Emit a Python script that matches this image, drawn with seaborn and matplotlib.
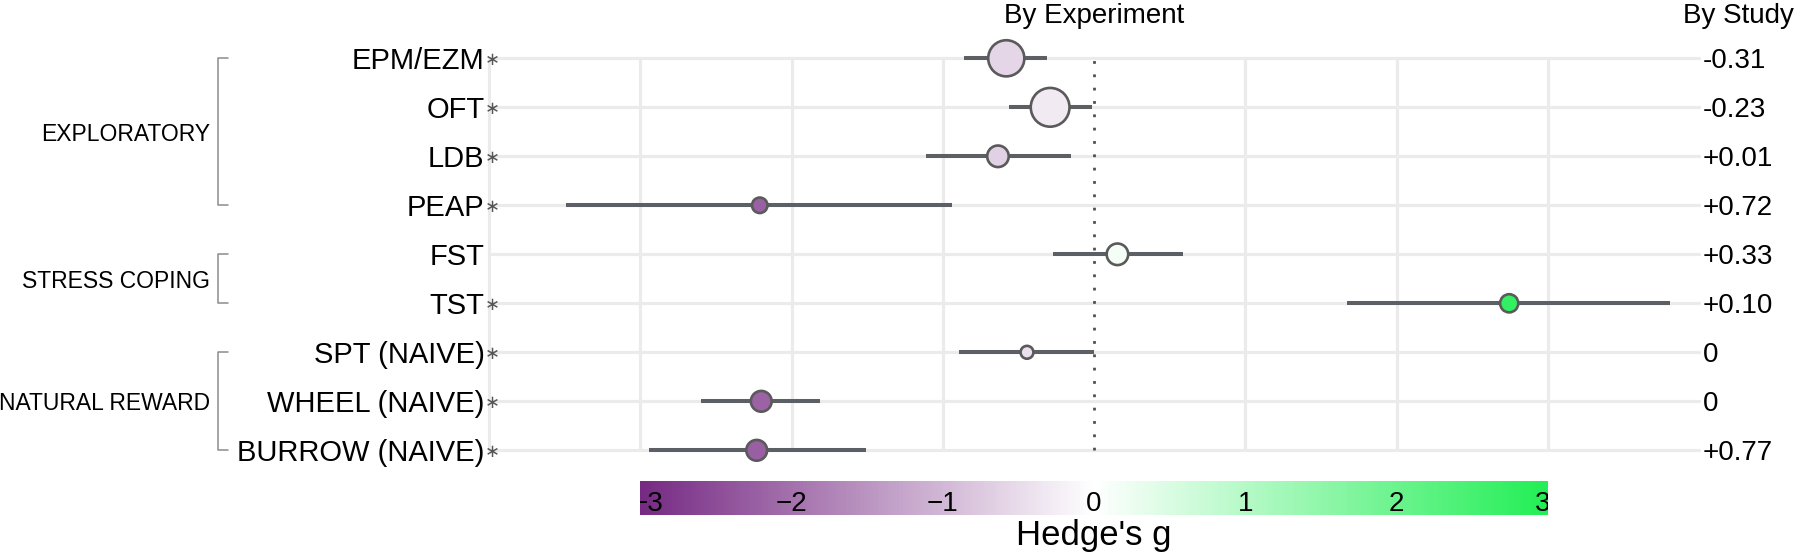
import numpy as np
import pandas as pd
import matplotlib
matplotlib.use("Agg")
import matplotlib.pyplot as plt
import seaborn as sns
from matplotlib.colors import LinearSegmentedColormap, Normalize
from matplotlib.cm import ScalarMappable
from matplotlib.transforms import blended_transform_factory, offset_copy

# ---------------- data ----------------
tests = ["EPM/EZM", "OFT", "LDB", "PEAP", "FST", "TST",
         "SPT (NAIVE)", "WHEEL (NAIVE)", "BURROW (NAIVE)"]
test_domain = ["EXPLORATORY"] * 4 + ["STRESS COPING"] * 2 + ["NATURAL REWARD"] * 3
significant = [True, True, True, True, False, True, True, True, True]
hedges_g = [-0.58, -0.29, -0.635, -2.21, 0.155, 2.745, -0.443, -2.20, -2.23]
ci_low = [-0.86, -0.56, -1.11, -3.49, -0.27, 1.675, -0.89, -2.60, -2.94]
ci_high = [-0.31, -0.01, -0.155, -0.94, 0.59, 3.81, 0.0, -1.81, -1.51]
weight_pct = [24.5, 28.2, 8.7, 4.5, 8.7, 6.2, 3.1, 8.1, 8.1]
by_study = [-0.31, -0.23, 0.01, 0.72, 0.33, 0.10, 0, 0, 0.77]
domains = ["EXPLORATORY", "STRESS COPING", "NATURAL REWARD"]
cbar_ticks = [-3, -2, -1, 0, 1, 2, 3]
grid_ticks = [-4, -3, -2, -1, 1, 2, 3]

# ---------------- style ----------------
sns.set_theme(style="white")
plt.rcParams["font.family"] = ["Liberation Sans", "DejaVu Sans"]
plt.rcParams["text.color"] = "black"

W, H = 1800, 558
fig = plt.figure(figsize=(W / 100, H / 100), dpi=100)


def fx(px):
    return px / W


def fy(py):
    return 1 - py / H


ax_l, ax_r, ax_t, ax_b = 489, 1699, 58.3, 450.3
ax = fig.add_axes([fx(ax_l), fy(ax_b), fx(ax_r) - fx(ax_l), fy(ax_t) - fy(ax_b)])

cmap = LinearSegmentedColormap.from_list("hedges", ["#762a83", "#ffffff", "#22ee55"])
norm = Normalize(vmin=-3, vmax=3)

pos = np.arange(len(tests))
df = pd.DataFrame({"test": tests, "pos": pos, "g": hedges_g, "lo": ci_low,
                   "hi": ci_high, "weight": weight_pct})

grid_col = "#ebebeb"
for gx in grid_ticks:
    ax.axvline(gx, color=grid_col, lw=2.3, zorder=0, clip_on=False)
for p in pos:
    ax.axhline(p, color=grid_col, lw=2.3, zorder=0, clip_on=False)
ax.axvline(0, color="#505050", lw=2.0, linestyle=(0, (1.0, 3.8)), zorder=1, clip_on=False)

ax.hlines(df["pos"], df["lo"], df["hi"], color="#5c5f63", lw=2.9, zorder=3,
          clip_on=False)

sns.scatterplot(data=df, x="g", y="pos", hue="g", palette=cmap, hue_norm=norm,
                size="weight", sizes=(0, 779), size_norm=(0, max(weight_pct)),
                edgecolor="#5a5a5a", linewidth=1.9, legend=False, ax=ax,
                zorder=4, clip_on=False)

ax.set_xlim(-4, 4)
ax.set_ylim(len(tests) - 1, 0)
ax.set_xticks([])
ax.set_yticks([])
ax.set_xlabel("")
ax.set_ylabel("")
for s in ax.spines.values():
    s.set_visible(False)

# ---------------- labels ----------------
trans = blended_transform_factory(fig.transFigure, ax.transData)
for p, name, sig in zip(pos, tests, significant):
    ax.text(fx(484.5), p, name, transform=trans, ha="right", va="center_baseline",
            fontsize=21, color="black")
    if sig:
        ax.text(fx(484.5), p, "\u2217", transform=trans, ha="left",
                va="center_baseline", fontsize=13, color="#555555",
                family=["DejaVu Sans"])

for p, v in zip(pos, by_study):
    lab = "0" if v == 0 else f"{v:+.2f}"
    ax.text(fx(1703), p, lab, transform=trans, ha="left", va="center_baseline",
            fontsize=20, color="black")

for d in domains:
    rows = [p for p, dd in zip(pos, test_domain) if dd == d]
    a, b = min(rows), max(rows)
    ax.plot([fx(228), fx(218), fx(218), fx(228)], [a, a, b, b], transform=trans,
            color="#8c8c8c", lw=1.1, clip_on=False)
    ax.text(fx(210), (a + b) / 2, d, transform=trans, ha="right",
            va="center_baseline", fontsize=16.5, color="black")

top_trans = blended_transform_factory(ax.transData, fig.transFigure)
ax.text(0, fy(13.3), "By Experiment", transform=top_trans, ha="center",
        va="center_baseline", fontsize=20, color="black")
fig.text(fx(1738), fy(13.3), "By Study", ha="center", va="center_baseline",
         fontsize=20, color="black")

# ---------------- colorbar ----------------
ax_w = ax_r - ax_l
c_l = ax_l + (cbar_ticks[0] + 4) / 8 * ax_w
c_r = ax_l + (cbar_ticks[-1] + 4) / 8 * ax_w
cax = fig.add_axes([fx(c_l), fy(515), fx(c_r) - fx(c_l), (515 - 481) / H])
sm = ScalarMappable(norm=norm, cmap=cmap)
cb = fig.colorbar(sm, cax=cax, orientation="horizontal")
cb.outline.set_visible(False)
cax.set_xticks([])
cax.set_yticks([])
ctrans = blended_transform_factory(cax.transData, cax.transAxes)
for i, v in enumerate(cbar_ticks):
    shift = 0
    if i == 0:
        shift = 5.5
    elif i == len(cbar_ticks) - 1:
        shift = -3.5
    t = offset_copy(ctrans, fig=fig, x=shift, y=0, units="points")
    cax.text(v, 0.42, str(v).replace("-", "\u2212"), transform=t,
             ha="center", va="center_baseline", fontsize=20, clip_on=True,
             color="black")
fig.text((fx(c_l) + fx(c_r)) / 2, fy(545), "Hedge's g", ha="center",
         va="baseline", fontsize=25, color="black")

fig.savefig("out.png", dpi=100)
